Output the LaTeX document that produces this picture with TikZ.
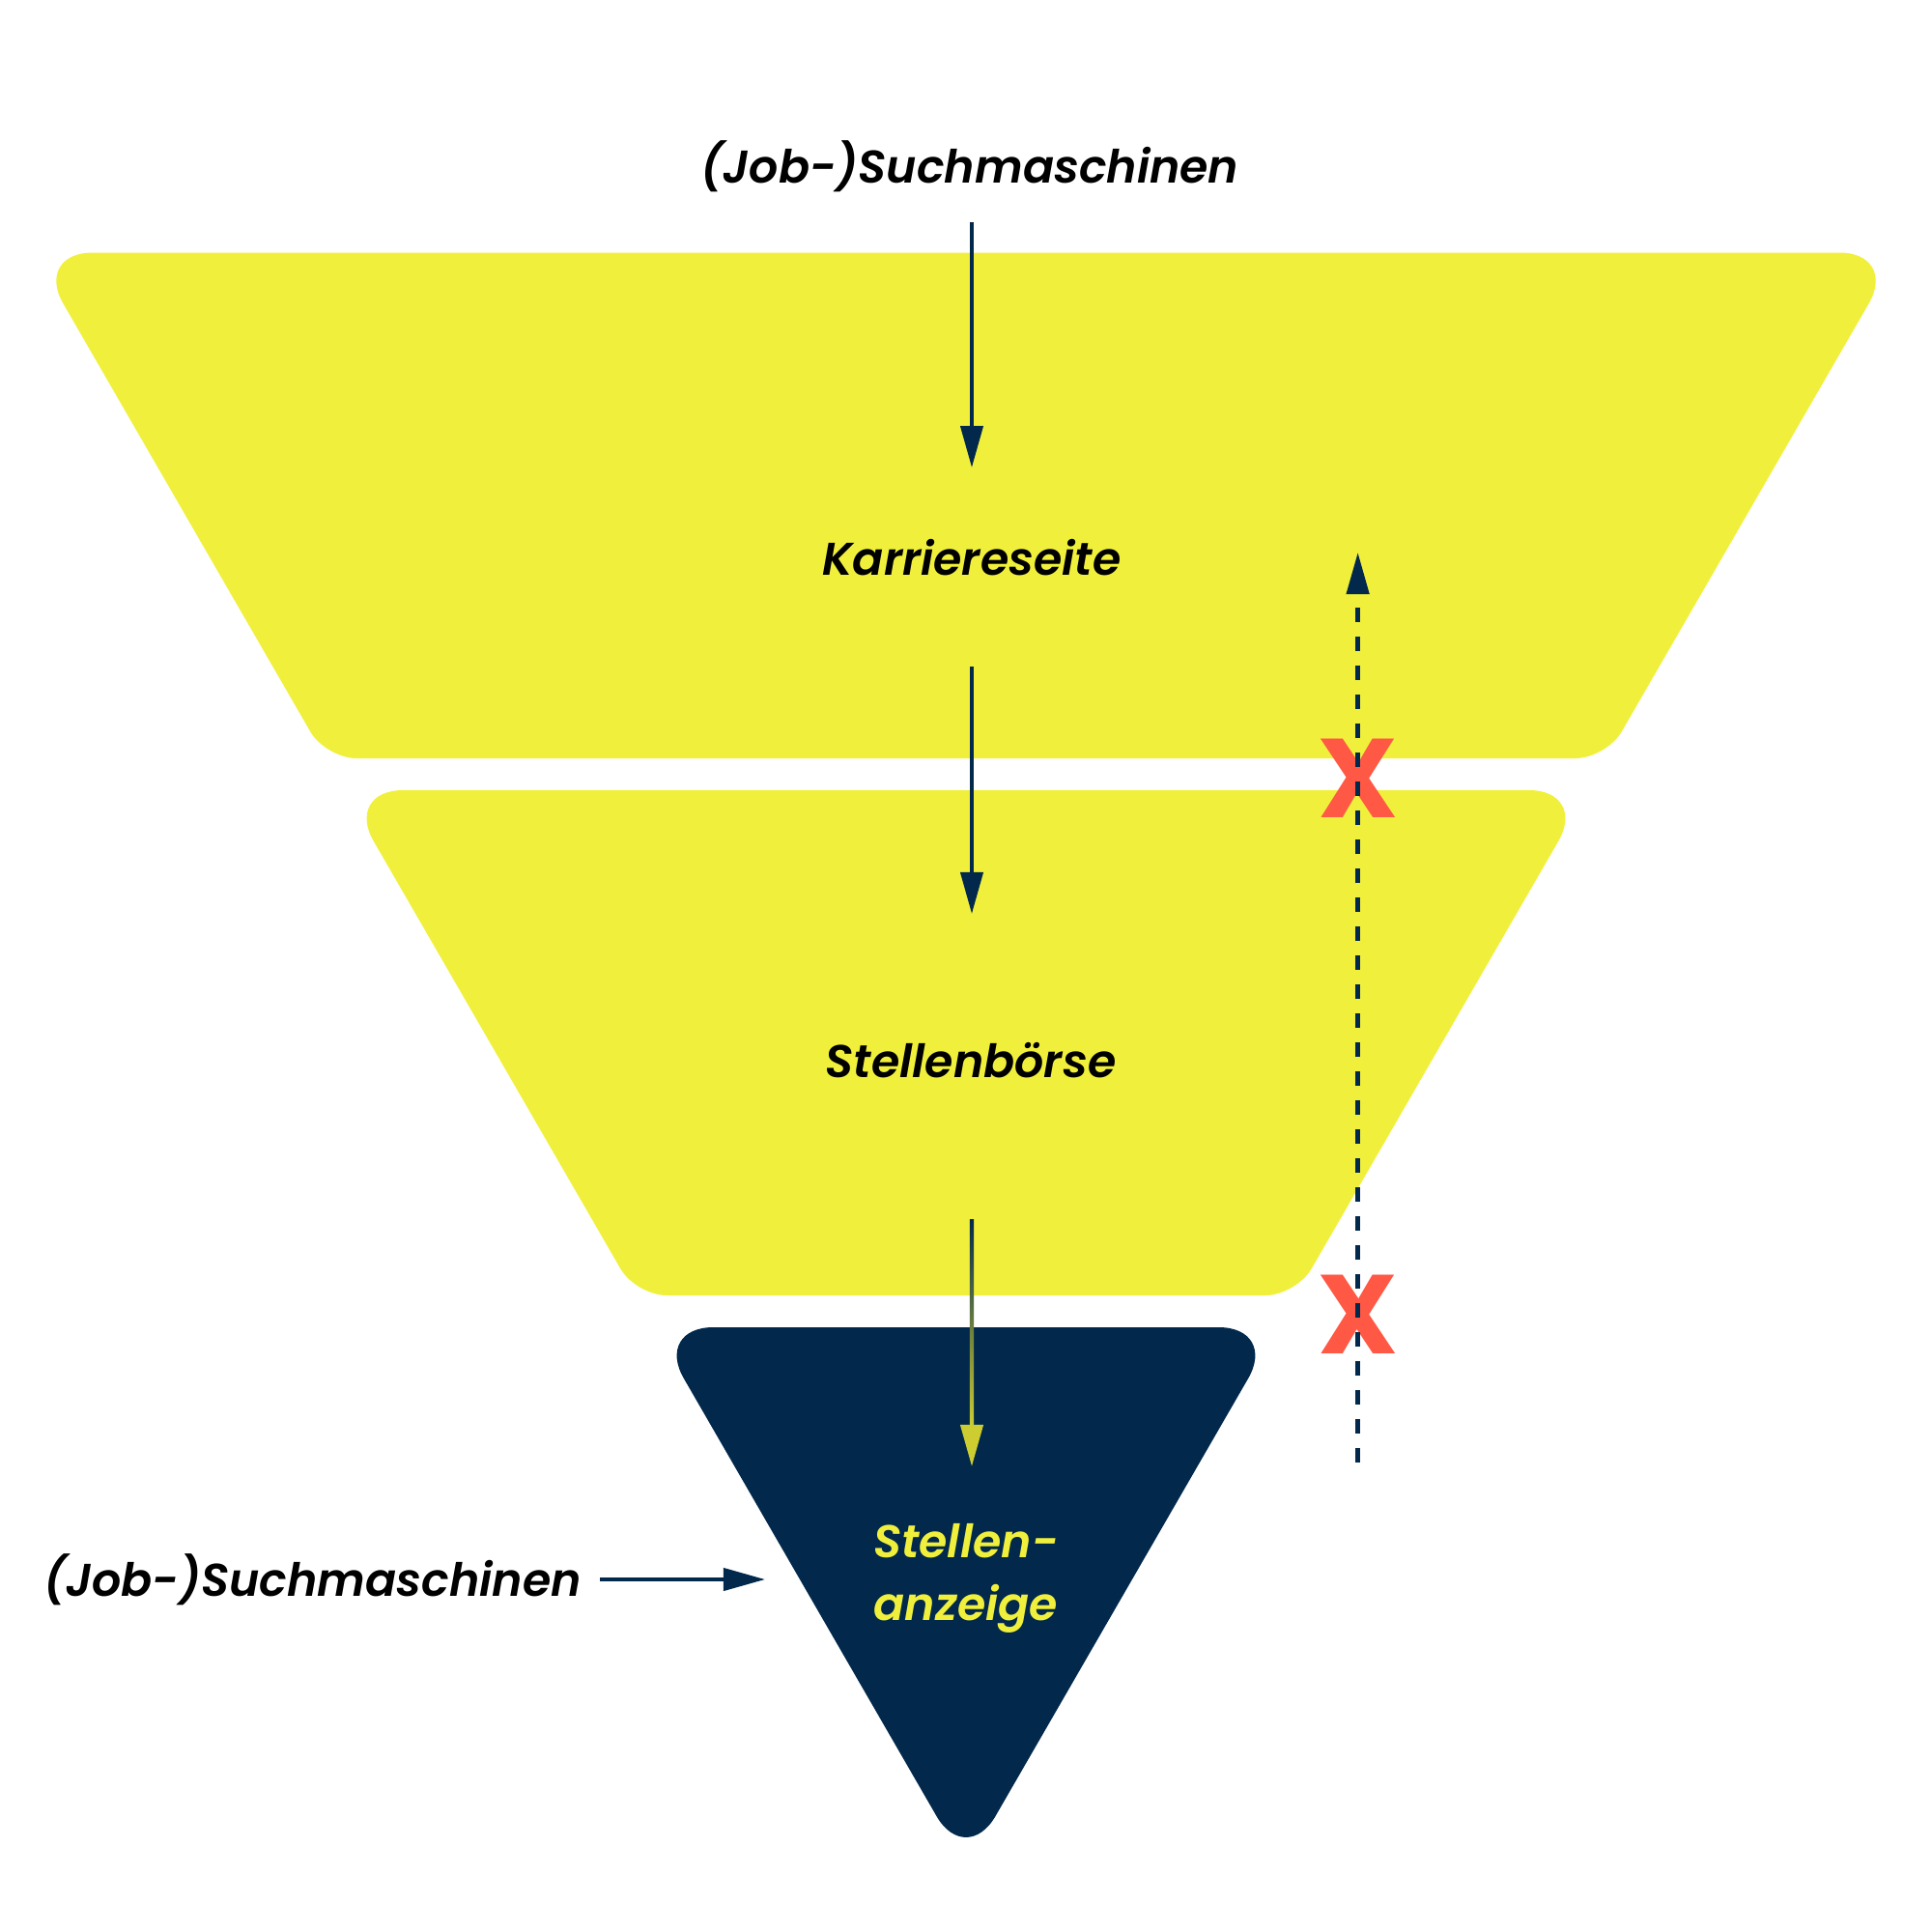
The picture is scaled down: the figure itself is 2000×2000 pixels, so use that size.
\documentclass[tikz,border=0pt]{standalone}
\usepackage{fontspec}
\newfontfamily\lblfont{Poppins}[UprightFont={* SemiBold Italic}]
\newfontfamily\xfont{Poppins}[UprightFont={* Bold}]
\usetikzlibrary{arrows.meta}
\definecolor{ylw}{RGB}{240,240,60}
\definecolor{navy}{RGB}{2,41,76}
\definecolor{xred}{RGB}{255,88,68}
\definecolor{tipyl}{RGB}{205,205,50}
\begin{document}
\begin{tikzpicture}[x=0.01cm,y=-0.01cm,
  lbl/.style={font=\lblfont\fontsize{13.5}{18.5}\selectfont, inner sep=0pt, text=black},
  arr/.style={draw=navy, line width=0.04cm, -{Triangle[length=0.43cm,width=0.23cm]}},
  xmark/.style={font=\xfont\fontsize{33}{33}\selectfont, text=xred, inner sep=0pt}]
\useasboundingbox[fill=white] (0,0) rectangle (2000,2000);
% bands of the funnel
\fill[ylw] (1000,261.5) [rounded corners=6.1mm] -- (1965,261.5)
  [rounded corners=3.2mm] -- (1662.8,785) -- (337.2,785)
  [rounded corners=6.1mm] -- (35,261.5) -- cycle;
\fill[ylw] (1000,818) [rounded corners=6.1mm] -- (1643.7,818)
  [rounded corners=3.2mm] -- (1341.7,1341) -- (658.3,1341)
  [rounded corners=6.1mm] -- (356.3,818) -- cycle;
\fill[navy] (1000,1374) [rounded corners=6.1mm] -- (1322.7,1374) -- (1000,1932.9)
  -- (677.3,1374) -- cycle;
% labels
\node[lbl] (jobtop) at (1004,172) {(Job-)Suchmaschinen};
\node[lbl] (karriere) at (1006,577) {Karriereseite};
\node[lbl] (stellen) at (1005,1098) {Stellenbörse};
\node[lbl, text=ylw, align=center, font=\lblfont\fontsize{13.5}{18.6}\selectfont] (anzeige) at (1000,1634) {Stellen-\\anzeige};
\node[lbl] (jobleft) at (323.5,1635) {(Job-)Suchmaschinen};
% red crosses
\node[xmark] (x1) at (1405.6,806) {X};
\node[xmark] (x2) at (1405.6,1361) {X};
% connector end points
\coordinate (a1s) at (1006,230);  \coordinate (a1e) at (1006,484);
\coordinate (a2s) at (1006,690);  \coordinate (a2e) at (1006,946);
\coordinate (a3s) at (1006,1262); \coordinate (a3e) at (1006,1518);
\coordinate (a4s) at (621,1635);  \coordinate (a4e) at (792,1635);
\coordinate (dS) at (1405.6,1518); \coordinate (dE) at (1405.6,572);
% connectors
\draw[arr] (a1s) -- (a1e);
\draw[arr] (a2s) -- (a2e);
\draw[arr, draw=tipyl] (a3s) -- (a3e);
\shade[top color=navy, bottom color=tipyl] (1003.9,1262) rectangle (1008.1,1478);
\draw[arr] (a4s) -- (a4e);
\draw[draw=navy, line width=0.045cm, dash pattern=on 0.15cm off 0.15cm, dash phase=0.15cm,
  {Triangle[length=0.43cm,width=0.23cm]}-] (dE) -- (dS);
\end{tikzpicture}
\end{document}
